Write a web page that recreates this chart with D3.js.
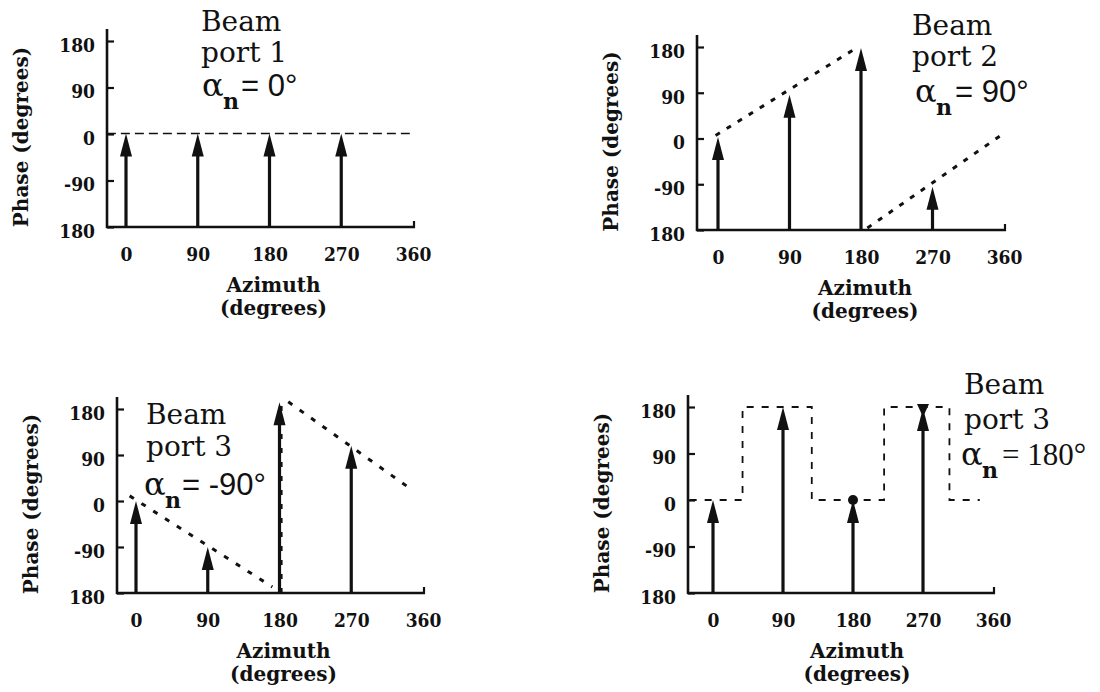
<!DOCTYPE html>
<html>
<head>
<meta charset="utf-8">
<script src="https://cdn.jsdelivr.net/npm/d3@7/dist/d3.min.js"></script>
<style>
  html, body { margin: 0; padding: 0; background: #fff; }
  svg { display: block; }
</style>
</head>
<body>
<svg id="chart" width="1100" height="692"></svg>
<script>
// Tick values shared by the four panels
const azimuthTicks = [0, 90, 180, 270, 360];
const phaseTicks = [180, 90, 0, -90, -180];
const phaseTickLabels = ["180", "90", "0", "-90", "180"];

// Element azimuths at which the phase arrows stand
const elementAzimuths = [0, 90, 180, 270];

// Arrow phase (degrees) for each element, one list per beam port
const port1Phase = [1, 1, 1, 1];
const port2Phase = [3, 86, 178, -95];
const port3Phase = [0, -90, 193, 108];
const port4Phase = [0, 180, 0, 178];

// Dashed phase traces: each segment is a list of [azimuth, phase]
const port1Trace = [[[-24, 1], [356, 1]]];
const port2Trace = [[[-3, 6], [170, 174]], [[188, -176], [355, 5]]];
const port3Trace = [[[-8, 10], [171, -168]], [[182, -180], [182, 190]], [[191, 194], [346, 22]]];
const port4Trace = [[[-30, 0], [38, 0], [38, 180], [127, 180], [127, 0], [220, 0], [220, 180], [304, 180], [304, 0], [343, 0]]];

// Marks on the last panel's arrow tips: [azimuth, phase, kind]
const port4Markers = [[180, 0, "dot"], [270, 178, "bowtie"]];

// Panel captions
const portNames = ["port 1", "port 2", "port 3", "port 3"];
const alphaValues = ["= 0°", "= 90°", "= -90°", "= 180°"];

const phases = [port1Phase, port2Phase, port3Phase, port4Phase];
const traces = [port1Trace, port2Trace, port3Trace, port4Trace];
const markers = [[], [], [], port4Markers];

// Placement of each panel on the page
const layout = [
  { axisX: 107, x0: 126, x360: 413, yBase: 227, y180: 41,
    titleX: 201, titleY: [31, 62, 96], alphaX: 202, eqX: 241, eqFont: "sans",
    dash: "9,5", dashW: 1.6 },
  { axisX: 697, x0: 718, x360: 1004, yBase: 230, y180: 47,
    titleX: 912, titleY: [35, 66, 102], alphaX: 915, eqX: 955, eqFont: "sans",
    dash: "5,8", dashW: 3 },
  { axisX: 117, x0: 136, x360: 423, yBase: 593, y180: 409,
    titleX: 146, titleY: [424, 456, 495], alphaX: 144, eqX: 182, eqFont: "sans",
    dash: "5,9", dashW: 3 },
  { axisX: 688, x0: 713, x360: 993, yBase: 593, y180: 407,
    titleX: 964, titleY: [394, 429, 465], alphaX: 961, eqX: 1002, eqFont: "serif",
    dash: "7,8", dashW: 1.8 }
];

const INK = "#111";
const TICKFONT = "'DejaVu Serif Condensed', 'DejaVu Serif', serif";
const SERIF = "'DejaVu Serif', serif";
const SANS = "'Liberation Sans', Arimo, Arial, sans-serif";
const SERIF2 = "'Liberation Serif', 'DejaVu Serif', serif";

const svg = d3.select("#chart");

layout.forEach((L, i) => {
  const g = svg.append("g");
  const x = d3.scaleLinear().domain([0, 360]).range([L.x0, L.x360]);
  const y = d3.scaleLinear().domain([-180, 180]).range([L.yBase, L.y180]);

  // y axis: inward ticks, labels on the left
  const yAxis = d3.axisLeft(y)
    .tickValues(phaseTicks)
    .tickFormat((d, k) => phaseTickLabels[k])
    .tickSize(-7)
    .tickPadding(12);
  const gy = g.append("g")
    .attr("transform", `translate(${L.axisX},0)`)
    .call(yAxis);
  gy.select(".domain").remove();
  gy.selectAll(".tick line").attr("stroke", INK).attr("stroke-width", 2.2);
  gy.selectAll(".tick text")
    .attr("fill", INK)
    .attr("dy", "0.55em")
    .style("font-family", TICKFONT)
    .style("font-weight", "bold")
    .style("font-size", "19px");
  g.append("line")
    .attr("x1", L.axisX).attr("x2", L.axisX)
    .attr("y1", y(-180) + 1).attr("y2", y(180) - 12)
    .attr("stroke", INK).attr("stroke-width", 2.6);

  // x axis: labels only, with a short end tick at 360
  const xAxis = d3.axisBottom(x)
    .tickValues(azimuthTicks)
    .tickFormat(d3.format("d"))
    .tickSize(0)
    .tickPadding(21);
  const gx = g.append("g")
    .attr("transform", `translate(0,${L.yBase})`)
    .call(xAxis);
  gx.select(".domain").remove();
  gx.selectAll(".tick text")
    .attr("fill", INK)
    .style("font-family", TICKFONT)
    .style("font-weight", "bold")
    .style("font-size", "19px");
  g.append("line")
    .attr("x1", L.axisX - 1).attr("x2", x(360) + 2)
    .attr("y1", L.yBase).attr("y2", L.yBase)
    .attr("stroke", INK).attr("stroke-width", 2.6);
  g.append("line")
    .attr("x1", x(360) + 1).attr("x2", x(360) + 1)
    .attr("y1", L.yBase - 6).attr("y2", L.yBase + 1)
    .attr("stroke", INK).attr("stroke-width", 2.2);

  // axis titles
  const mid = (x(0) + x(360)) / 2 + 4;
  const titleStyle = sel => sel
    .attr("fill", INK)
    .style("font-family", SERIF)
    .style("font-weight", "bold")
    .style("font-size", "20px");
  g.append("text").text("Azimuth")
    .attr("x", mid).attr("y", L.yBase + 65)
    .attr("text-anchor", "middle").call(titleStyle);
  g.append("text").text("(degrees)")
    .attr("x", mid).attr("y", L.yBase + 88)
    .attr("text-anchor", "middle").call(titleStyle);
  g.append("text").text("Phase (degrees)")
    .attr("transform", `translate(${L.axisX - 86},${y(0) + 3}) rotate(-90)`)
    .attr("text-anchor", "middle").attr("dy", "0.33em").call(titleStyle);

  // dashed phase trace
  const line = d3.line().x(d => x(d[0])).y(d => y(d[1]));
  g.selectAll("path.trace").data(traces[i]).join("path")
    .attr("class", "trace")
    .attr("d", line)
    .attr("fill", "none")
    .attr("stroke", INK)
    .attr("stroke-width", L.dashW)
    .attr("stroke-dasharray", L.dash);

  // phase arrows
  const arrows = elementAzimuths.map((az, k) => ({ az, ph: phases[i][k] }));
  const HEAD = 23, HALF = 6;
  g.selectAll("line.stem").data(arrows).join("line")
    .attr("class", "stem")
    .attr("x1", d => x(d.az)).attr("x2", d => x(d.az))
    .attr("y1", L.yBase).attr("y2", d => y(d.ph) + HEAD - 3)
    .attr("stroke", INK).attr("stroke-width", 3.2);
  g.selectAll("path.head").data(arrows).join("path")
    .attr("class", "head")
    .attr("d", d => {
      const cx = x(d.az), ty = y(d.ph);
      return `M${cx},${ty} L${cx - HALF},${ty + HEAD} L${cx + HALF},${ty + HEAD} Z`;
    })
    .attr("fill", INK);

  // tip marks
  markers[i].forEach(m => {
    const cx = x(m[0]), cy = y(m[1]);
    if (m[2] === "dot") {
      g.append("circle").attr("cx", cx).attr("cy", cy).attr("r", 5).attr("fill", INK);
    } else {
      g.append("path")
        .attr("d", `M${cx - 6},${cy - 4} L${cx + 6},${cy - 4} L${cx},${cy + 9} Z`)
        .attr("fill", INK);
    }
  });

  // caption: "Beam", port name, and the alpha line with its subscript
  const cap = g.append("g").attr("fill", INK);
  cap.append("text").text("Beam")
    .attr("x", L.titleX).attr("y", L.titleY[0])
    .style("font-family", SERIF).style("font-size", "28px");
  cap.append("text").text(portNames[i])
    .attr("x", L.titleX).attr("y", L.titleY[1])
    .style("font-family", SERIF).style("font-size", "28px");
  const alpha = cap.append("text")
    .attr("x", L.alphaX).attr("y", L.titleY[2])
    .style("font-family", SERIF).style("font-size", "32px");
  alpha.append("tspan").text("α");
  alpha.append("tspan").text("n")
    .attr("x", L.alphaX + 21).attr("y", L.titleY[2] + 13)
    .style("font-weight", "bold").style("font-size", "22px");
  alpha.append("tspan").text(alphaValues[i])
    .attr("x", L.eqX).attr("y", L.titleY[2])
    .style("font-family", L.eqFont === "sans" ? SANS : SERIF2)
    .style("font-size", "31px");
});
</script>
</body>
</html>
